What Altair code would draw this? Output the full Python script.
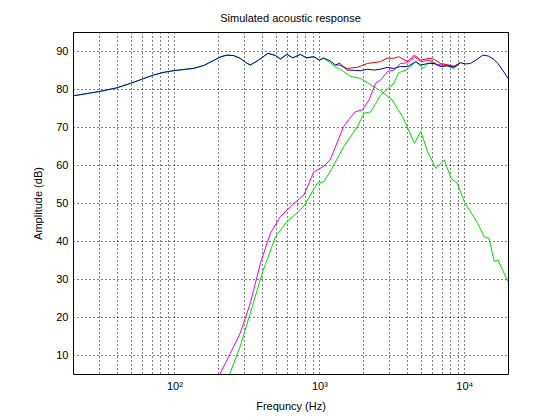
import altair as alt
import pandas as pd

blue_f = [20, 25, 30, 40, 50, 58, 72, 85, 98, 120, 135, 160, 186, 210, 230, 256, 284, 310, 334, 381, 442, 498, 538, 599, 656, 741, 812, 916, 1000, 1068, 1186, 1290, 1380, 1470, 1557, 1750, 1926, 2140, 2400, 2636, 2935, 3260, 3610, 4060, 4630, 5010, 5580, 6190, 6870, 7630, 8460, 9380, 10200, 11000, 12200, 13370, 14600, 16000, 17050, 18500, 20000]
blue_db = [78.2, 78.8, 79.3, 80.3, 81.5, 82.4, 83.7, 84.4, 84.8, 85.2, 85.4, 86.2, 87.5, 88.5, 88.9, 88.8, 88.1, 87.0, 86.3, 87.6, 89.4, 88.8, 87.9, 89.1, 88.2, 89.1, 88.2, 88.5, 87.6, 88.2, 87.4, 86.3, 86.8, 85.8, 85.0, 84.9, 84.8, 85.2, 85.0, 85.2, 85.7, 85.4, 85.9, 85.9, 87.2, 86.3, 86.7, 86.7, 85.9, 86.1, 85.7, 86.9, 86.6, 86.7, 87.8, 88.9, 88.7, 87.8, 86.7, 84.8, 82.8]

red_f = [1290, 1380, 1557, 1830, 2140, 2636, 2935, 3260, 3520, 4060, 4520, 5010, 5760, 6190, 6870, 7630, 8460, 9380]
red_db = [86.3, 86.3, 85.4, 85.7, 86.7, 87.2, 88.1, 88.1, 88.5, 87.2, 88.9, 87.6, 88.1, 87.8, 86.7, 86.4, 85.9, 86.9]

mag_f = [205, 243, 284, 334, 392, 459, 538, 667, 782, 916, 1068, 1186, 1470, 1600, 1770, 1980, 2200, 2440, 2650, 2950, 3280, 3610, 4060, 4530, 5010, 5760, 6530, 7630, 8600, 9380]
mag_db = [4.8, 10.4, 15.7, 23.6, 34.1, 42.0, 46.4, 49.9, 52.1, 58.2, 59.6, 61.3, 70.1, 72.0, 74.0, 74.5, 77.1, 81.5, 82.4, 84.6, 85.0, 86.7, 86.9, 88.5, 87.2, 87.6, 86.4, 86.3, 86.0, 86.9]

ghp_f = [240, 284, 334, 403, 498, 599, 741, 803, 967, 1068, 1186, 1470, 1830, 2030, 2260, 2650, 3260, 3520, 3970, 4630, 5200, 5760, 6190, 6870, 7630, 8460, 9380]
ghp_db = [4.8, 12.2, 21.0, 31.5, 41.1, 45.1, 48.2, 49.9, 55.2, 55.6, 58.2, 64.8, 70.1, 73.6, 74.0, 78.4, 81.5, 84.3, 85.0, 87.2, 85.4, 87.2, 86.7, 86.1, 86.1, 85.4, 86.9]

glp_f = [20, 25, 30, 40, 50, 58, 72, 85, 98, 120, 135, 160, 186, 210, 230, 256, 284, 310, 334, 381, 442, 498, 538, 599, 656, 741, 812, 916, 1000, 1068, 1186, 1290, 1380, 1470, 1640, 1926, 2260, 2650, 3180, 3800, 4520, 5010, 5580, 6360, 7280, 8100, 8940, 10000, 12350, 13710, 14800, 16090, 17050, 20000]
glp_db = [78.2, 78.8, 79.3, 80.3, 81.5, 82.4, 83.7, 84.4, 84.8, 85.2, 85.4, 86.2, 87.5, 88.5, 88.9, 88.8, 88.1, 87.0, 86.3, 87.6, 89.4, 88.8, 87.9, 89.1, 88.2, 89.1, 88.2, 88.5, 87.6, 88.0, 87.0, 85.8, 85.2, 84.6, 83.3, 82.8, 81.1, 79.5, 77.1, 72.3, 65.7, 68.8, 63.5, 59.1, 61.3, 56.5, 55.2, 50.3, 44.7, 41.1, 40.7, 34.6, 35.0, 29.3]

x_grid = [20, 30, 40, 50, 60, 70, 80, 90, 100, 200, 300, 400, 500, 600, 700, 800, 900,
          1000, 2000, 3000, 4000, 5000, 6000, 7000, 8000, 9000, 10000, 20000]
y_ticks = [10, 20, 30, 40, 50, 60, 70, 80, 90]

FONT = "Liberation Sans"

xscale = alt.Scale(type="log", domain=[20, 20000], nice=False)
yscale = alt.Scale(domain=[5, 95], nice=False, zero=False)

common = dict(grid=True, gridColor="black", gridDash=[1, 3], gridOpacity=1, gridWidth=1,
              labelFont=FONT, titleFont=FONT, labelFontSize=11, titleFontSize=11,
              labelColor="black", titleColor="black", titleFontWeight="normal",
              ticks=False, domain=False)

xaxis = alt.Axis(values=x_grid, title="Frequncy (Hz)",
                 labelExpr="datum.value == 100 ? '10\u00b2' : datum.value == 1000 ? '10\u00b3' : datum.value == 10000 ? '10\u2074' : ''",
                 labelOverlap=False, labelPadding=6, titlePadding=9, **common)
yaxis = alt.Axis(values=y_ticks, title="Amplitude (dB)",
                 labelPadding=5, titlePadding=12, **common)


def layer(f, db, color):
    df = pd.DataFrame({"f": f, "db": db})
    return alt.Chart(df).mark_line(color=color, strokeWidth=1, clip=True, interpolate="linear").encode(
        x=alt.X("f:Q", scale=xscale, axis=xaxis),
        y=alt.Y("db:Q", scale=yscale, axis=yaxis),
    )


chart = alt.layer(
    layer(glp_f, glp_db, "#00dd00"),
    layer(ghp_f, ghp_db, "#00dd00"),
    layer(mag_f, mag_db, "#ee00ee"),
    layer(red_f, red_db, "#ee0000"),
    layer(blue_f, blue_db, "#0000bb"),
).properties(
    width=435, height=342,
    background="white",
    title=alt.Title("Simulated acoustic response", fontSize=11, fontWeight="normal", font=FONT,
                    color="black", offset=8),
    autosize=alt.AutoSizeParams(type="none"),
    padding={"left": 65, "top": 24, "right": 44, "bottom": 38},
).configure_view(
    stroke="black", strokeWidth=1, strokeOpacity=1
)

chart.save("out.html", embed_options={"renderer": "svg", "actions": False})
